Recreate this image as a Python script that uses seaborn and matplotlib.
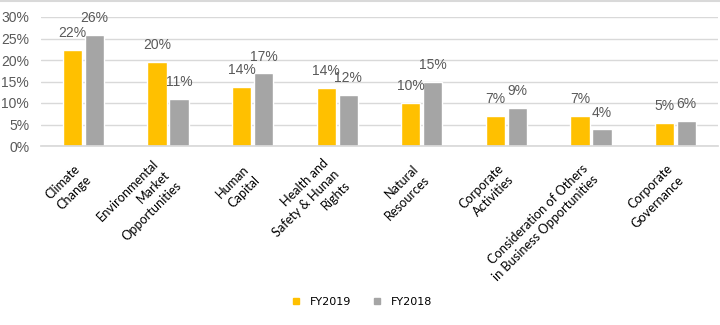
import matplotlib
matplotlib.use("Agg")
import matplotlib.pyplot as plt
import seaborn as sns
import pandas as pd
from matplotlib.lines import Line2D

categories = ["Climate\nChange", "Environmental\nMarket\nOpportunities", "Human\nCapital",
              "Health and\nSafety & Hunan\nRights", "Natural\nResources", "Corporate\nActivities",
              "Consideration of Others\nin Business Opportunities", "Corporate\nGovernance"]
fy2019 = [22.3, 19.6, 13.8, 13.6, 10.1, 7.0, 7.0, 5.3]
fy2018 = [25.9, 10.9, 16.9, 11.9, 14.9, 8.9, 3.9, 5.9]
labels2019 = ["22%", "20%", "14%", "14%", "10%", "7%", "7%", "5%"]
labels2018 = ["26%", "11%", "17%", "12%", "15%", "9%", "4%", "6%"]
series = ["FY2019", "FY2018"]
colors = ["#FFC000", "#A5A5A5"]
yticks = [0, 5, 10, 15, 20, 25, 30]

df = pd.DataFrame({
    "cat": categories * 2,
    "val": fy2019 + fy2018,
    "series": [series[0]] * len(categories) + [series[1]] * len(categories),
})

sns.set_theme(style="white")
plt.rcParams["font.family"] = ["DejaVu Sans"]

fig = plt.figure(figsize=(7.2, 3.25), dpi=100)
ax = fig.add_axes([41 / 720, 1 - 146 / 325, (718 - 41) / 720, (146 - 17) / 325])

sns.barplot(data=df, x="cat", y="val", hue="series", palette=colors, ax=ax,
            width=0.52, gap=0.12, legend=False, saturation=1, errorbar=None)

ax.set_ylim(0, 30)
ax.set_yticks(yticks)
ax.set_yticklabels([f"{t}%" for t in yticks], color="#595959", fontsize=10,
                   family=["Liberation Sans", "DejaVu Sans"])
ax.yaxis.grid(True, color="#D9D9D9", linewidth=1)
ax.set_axisbelow(True)
for s in ["top", "right", "left"]:
    ax.spines[s].set_visible(False)
ax.spines["bottom"].set_color("#D9D9D9")
ax.tick_params(axis="y", length=0, pad=8.5)
ax.set_xlabel("")
ax.set_ylabel("")
ax.set_xlim(-0.5, len(categories) - 0.5)

ax.set_xticks(range(len(categories)))
ax.set_xticklabels(categories, rotation=45, ha="right", va="center",
                   rotation_mode="anchor", multialignment="right", linespacing=1.35,
                   fontsize=9.2, color="#000000", family=["Lato", "DejaVu Sans"])
ax.tick_params(axis="x", length=0, pad=19)

for cont, labs in zip(ax.containers, [labels2019, labels2018]):
    ax.bar_label(cont, labels=labs, padding=7, color="#595959", fontsize=10,
                 family=["Liberation Sans", "DejaVu Sans"])

handles = [Line2D([], [], marker="s", linestyle="", markersize=5,
                  markerfacecolor=c, markeredgecolor=c) for c in colors]
fig.legend(handles, series, loc="center", bbox_to_anchor=(362 / 720, 1 - 302 / 325),
           ncol=2, frameon=False, fontsize=8, handletextpad=0.9, columnspacing=2.0,
           handlelength=0.7, labelcolor="#000000")

fig.add_artist(Line2D([0, 1], [0.997, 0.997], color="#D9D9D9", linewidth=1.5,
                      transform=fig.transFigure))

fig.savefig("out.png", dpi=100, facecolor="white")
